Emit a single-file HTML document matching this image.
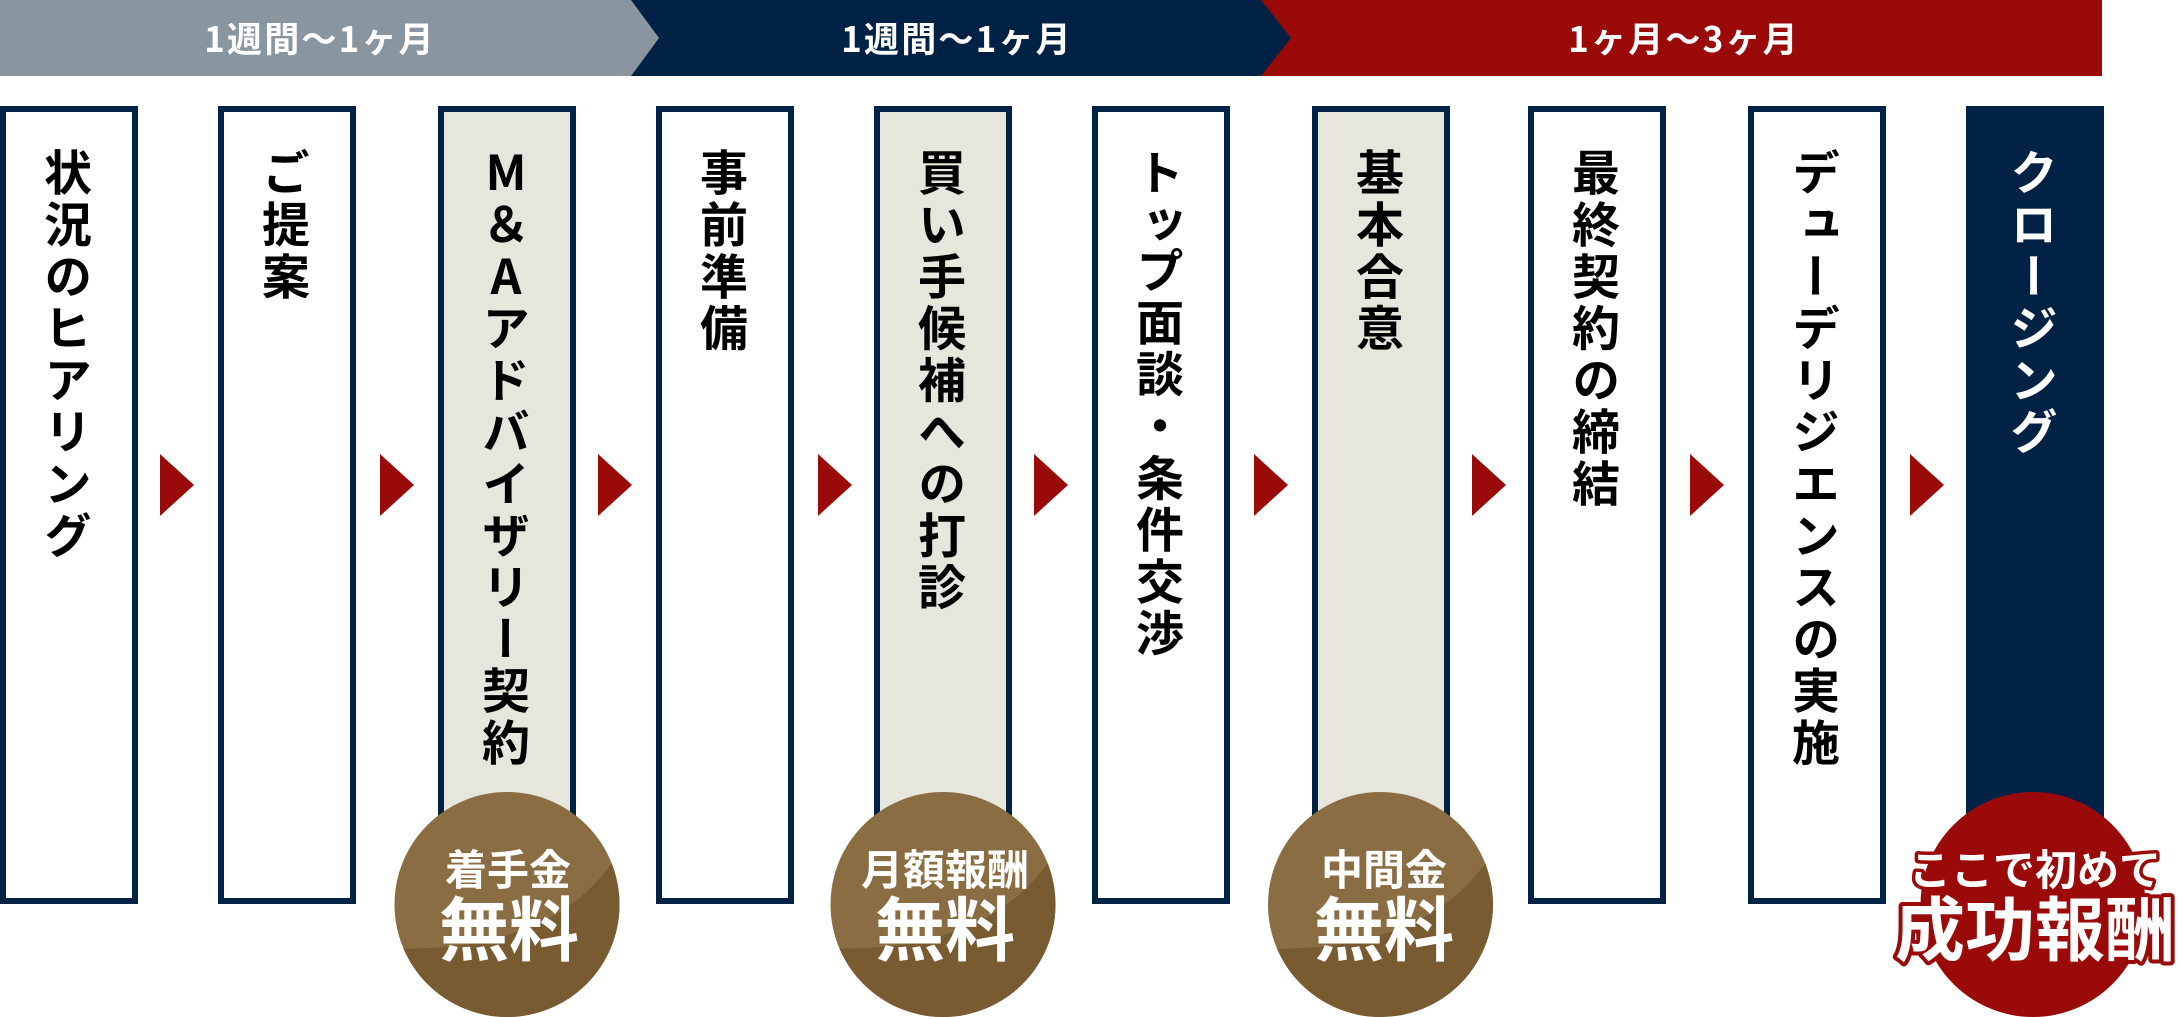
<!DOCTYPE html>
<html lang="ja"><head><meta charset="utf-8">
<style>
html,body{margin:0;padding:0;background:#fff}
#p{position:relative;width:2183px;height:1017px;overflow:hidden;background:#fff;font-family:"Liberation Sans","Noto Sans CJK JP",sans-serif;font-weight:700}
.b{position:absolute;top:106px;width:138px;height:798px;box-sizing:border-box;border:6px solid #012245;background:#fff}
.e{background:#e6e6dc}
.n{background:#012245;color:#fff}
.t{position:absolute;top:148px;width:136px;height:760px;display:flex;justify-content:center;font-family:"Noto Sans CJK JP",sans-serif;font-size:48px;line-height:1;letter-spacing:3.8px;color:#000}
.t>span{writing-mode:vertical-rl;text-orientation:upright}
.bt{position:absolute;top:18px;height:40px;line-height:40px;font-family:"Noto Sans CJK JP",sans-serif;font-size:35px;letter-spacing:2.2px;color:#fff;text-align:center;white-space:nowrap}
svg{position:absolute;left:0;top:0}
.cj{font-family:"Noto Sans CJK JP",sans-serif;font-weight:700;text-anchor:middle}
</style></head><body><div id="p">
<svg width="2183" height="76" style="z-index:1">
<rect x="1100" y="0" width="1002" height="76" fill="#990a09"/>
<polygon points="631,0 1261,0 1291,38 1261,76 631,76" fill="#012245"/>
<polygon points="0,0 631,0 659,38 631,76 0,76" fill="#8996a0"/>
</svg>
<div class="bt" style="left:120px;width:400px;z-index:2">1週間〜1ヶ月</div>
<div class="bt" style="left:757px;width:400px;z-index:2">1週間〜1ヶ月</div>
<div class="bt" style="left:1484px;width:400px;z-index:2">1ヶ月〜3ヶ月</div>

<div class="b" style="left:0"></div>
<div class="b" style="left:218px"></div>
<div class="b e" style="left:438px"></div>
<div class="b" style="left:656px"></div>
<div class="b e" style="left:874px"></div>
<div class="b" style="left:1092px"></div>
<div class="b e" style="left:1312px"></div>
<div class="b" style="left:1528px"></div>
<div class="b" style="left:1748px"></div>
<div class="b n" style="left:1966px"></div>

<div class="t" style="left:0"><span>状況のヒアリング</span></div>
<div class="t" style="left:218px"><span>ご提案</span></div>
<div class="t" style="left:438px"><span>M＆Aアドバイザリー契約</span></div>
<div class="t" style="left:656px"><span>事前準備</span></div>
<div class="t" style="left:874px"><span>買い手候補への打診</span></div>
<div class="t" style="left:1092px"><span>ト<span style="letter-spacing:-2px">ッ</span>プ面談・条件交渉</span></div>
<div class="t" style="left:1312px"><span>基本合意</span></div>
<div class="t" style="left:1528px"><span>最終契約の締結</span></div>
<div class="t" style="left:1748px"><span>デューデリジエンスの実施</span></div>
<div class="t" style="left:1966px;color:#fff"><span>クロージング</span></div>

<svg width="2183" height="1017" style="z-index:3">
<defs>
<clipPath id="c"><circle cx="0" cy="0" r="112.5"/></clipPath>
<g id="m"><circle r="112.5" fill="#8a6d42"/><path clip-path="url(#c)" d="M108,-46 C76,2 14,46 -108,44 L-130,130 L130,130 L130,-46 Z" fill="#795b32"/></g>
</defs>
<g fill="#990a09">
<polygon points="160,454 194,485 160,516"/>
<polygon points="380,454 414,485 380,516"/>
<polygon points="598,454 632,485 598,516"/>
<polygon points="818,454 852,485 818,516"/>
<polygon points="1034,454 1068,485 1034,516"/>
<polygon points="1254,454 1288,485 1254,516"/>
<polygon points="1472,454 1506,485 1472,516"/>
<polygon points="1690,454 1724,485 1690,516"/>
<polygon points="1910,454 1944,485 1910,516"/>
</g>
<use href="#m" x="507" y="904.5"/>
<use href="#m" x="943" y="904.5"/>
<use href="#m" x="1380.5" y="904.5"/>
<circle cx="2033" cy="904.5" r="112.5" fill="#990a09"/>
<g fill="#fff" class="cj">
<text class="cj" x="508" y="885" font-size="42">着手金</text>
<text class="cj" x="509" y="955" font-size="70">無料</text>
<text class="cj" x="945" y="885" font-size="42">月額報酬</text>
<text class="cj" x="945" y="955" font-size="70">無料</text>
<text class="cj" x="1384" y="885" font-size="42">中間金</text>
<text class="cj" x="1384" y="955" font-size="70">無料</text>
<text class="cj" x="2035" y="885" font-size="42" stroke="#990a09" stroke-width="7" stroke-linejoin="round" paint-order="stroke">ここで初めて</text>
<text class="cj" x="2035" y="955" font-size="70" stroke="#990a09" stroke-width="8" stroke-linejoin="round" paint-order="stroke">成功報酬</text>
</g>
</svg>
</div></body></html>
